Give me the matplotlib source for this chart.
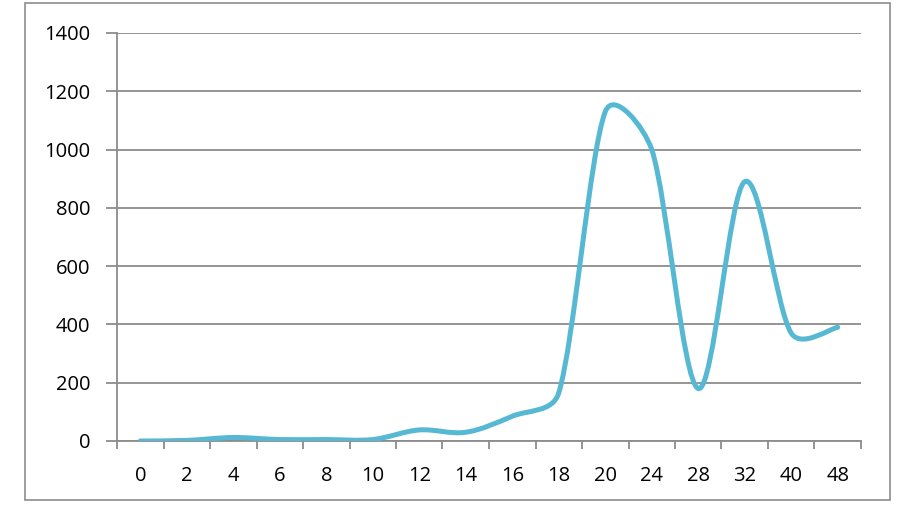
import matplotlib
matplotlib.use("Agg")
import matplotlib.pyplot as plt
from matplotlib.path import Path
from matplotlib.patches import PathPatch, Rectangle
import numpy as np

categories = ["0", "2", "4", "6", "8", "10", "12", "14", "16", "18", "20", "24", "28", "32", "40", "48"]
values = [0, 2, 12, 5, 5, 5, 38, 30, 85, 165, 1130, 1000, 180, 890, 370, 390]
yticks = [0, 200, 400, 600, 800, 1000, 1200, 1400]

plt.rcParams['font.family'] = ['Open Sans', 'DejaVu Sans']

fig = plt.figure(figsize=(9.01, 5.09), dpi=100)
ax = fig.add_axes([117/901, 1-441/509, (861-117)/901, (441-33)/509])

# outer chart border
fig.patches.append(Rectangle((25/901, 1-500/509), (890-25)/901, (500-3)/509,
                             transform=fig.transFigure, fill=False,
                             edgecolor='#8c8c8c', linewidth=1.2))

ax.set_xlim(-0.5, len(categories) - 0.5)
ax.set_ylim(0, 1400)

# smoothed line (Excel-like Bezier smoothing, computed in display space)
x = np.arange(len(values), dtype=float)
y = np.array(values, dtype=float)
pts = ax.transData.transform(np.column_stack([x, y]))
n = len(pts)
k = 0.4
tang = []
for i in range(n):
    a = pts[max(i - 1, 0)]
    b = pts[min(i + 1, n - 1)]
    tang.append((b - a) / 6.0)


def ctrl(t, seg):
    L = np.linalg.norm(t)
    if L == 0:
        return t
    return t / L * min(L, k * seg)


verts = [pts[0]]
codes = [Path.MOVETO]
for i in range(n - 1):
    seg = np.linalg.norm(pts[i + 1] - pts[i])
    c1 = pts[i] + ctrl(tang[i], seg)
    c2 = pts[i + 1] - ctrl(tang[i + 1], seg)
    verts += [c1, c2, pts[i + 1]]
    codes += [Path.CURVE4] * 3
verts = ax.transData.inverted().transform(np.array(verts))
path = Path(verts, codes)
ax.add_patch(PathPatch(path, facecolor='none', edgecolor='#56b8d2',
                       linewidth=3.6, capstyle='round', joinstyle='round', zorder=3))

ax.set_yticks(yticks)
ax.set_yticklabels([str(v) for v in yticks])
ax.set_xticks(x)
ax.set_xticklabels(categories)
ax.set_xticks(np.arange(-0.5, len(categories)), minor=True)

ax.grid(axis='y', color='#8c8c8c', linewidth=1.3, zorder=1)
ax.set_axisbelow(True)
for s in ['top', 'right']:
    ax.spines[s].set_visible(False)
for s in ['left', 'bottom']:
    ax.spines[s].set_color('#8c8c8c')
    ax.spines[s].set_linewidth(1.3)

ax.tick_params(axis='x', which='major', length=0, pad=18, labelsize=14.5, colors='black')
ax.tick_params(axis='x', which='minor', length=6, width=1.3, color='#8c8c8c', direction='out')
ax.tick_params(axis='y', which='major', length=8, width=1.3, color='#8c8c8c', direction='out',
               pad=11, labelsize=14.5, labelcolor='black')

fig.savefig("out.png", dpi=100)
